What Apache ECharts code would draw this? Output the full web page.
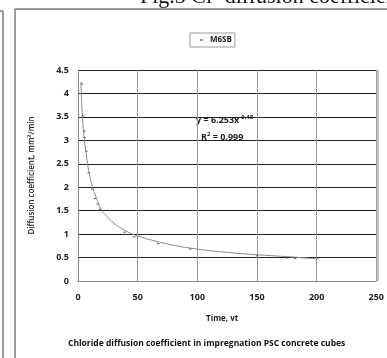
<!DOCTYPE html>
<html><head><meta charset="utf-8">
<script src="https://cdn.jsdelivr.net/npm/echarts@6/dist/echarts.min.js"></script>
<style>html,body{margin:0;padding:0;background:#fff;}#c{width:387px;height:358px;}</style>
</head><body><div id="c"></div>
<script>
// measured data points (x = time, y = diffusion coefficient)
var pointX = [3.3, 4.2, 5.3, 5.5, 7, 9, 12, 14, 16.4, 18.3, 39, 47, 67, 94, 150, 175, 182];
var pointY = [4.2, 3.52, 3.2, 3.06, 2.77, 2.31, 1.96, 1.76, 1.64, 1.53, 1.04, 0.94, 0.80, 0.68, 0.54, 0.49, 0.48];
// trend line
var trendX = [2.5, 3, 4, 5, 6, 8, 10, 12, 15, 20, 25, 30, 40, 50, 75, 100, 125, 150, 175, 202];
var trendY = [4.25, 3.85, 3.4, 3.1, 2.88, 2.5, 2.22, 2.02, 1.8, 1.5, 1.36, 1.23, 1.07, 0.96, 0.79, 0.68, 0.61, 0.56, 0.52, 0.47];
var seriesName = 'M6SB';
var xTitle = 'Time, vt';
var yTitle = 'Diffusion coefficient, mm\u00b2/min';
var caption = 'Chloride diffusion coefficient in impregnation PSC concrete cubes';
var topTitle = 'Fig.3 Cl\u207b diffusion coefficient';

var pts = pointX.map(function(x,i){return [x, pointY[i]];});
var trend = trendX.map(function(x,i){return [x, trendY[i]];});

var chart = echarts.init(document.getElementById('c'));
var lf = 'Open Sans';
chart.setOption({
  animation:false,
  backgroundColor:'#fff',
  grid:{left:78, right:9, top:70, bottom:77, show:false},
  legend:{data:[{name:seriesName, icon:'rect'}], left:190, top:33, borderColor:'#999', borderWidth:1, borderRadius:0,
    padding:[3,3,3,10], itemWidth:3, itemHeight:1.5, itemGap:4,
    textStyle:{fontFamily:lf, fontSize:8, fontWeight:'bold', color:'#222', padding:[0,0,0,2]}},
  xAxis:{type:'value', min:0, max:250, interval:50,
    name:xTitle, nameLocation:'middle', nameGap:34,
    nameTextStyle:{fontFamily:lf, fontSize:8, fontWeight:'bold', color:'#222', padding:[0,10,0,0]},
    axisLine:{show:true, lineStyle:{color:'#888', width:1}}, axisTick:{show:false},
    axisLabel:{fontFamily:lf, fontSize:9, fontWeight:'bold', color:'#222', margin:12},
    splitLine:{show:true, lineStyle:{color:'#999', width:1}}},
  yAxis:{type:'value', min:0, max:4.5, interval:0.5,
    name:yTitle, nameLocation:'middle', nameGap:42, nameRotate:90,
    nameTextStyle:{fontFamily:lf, fontSize:8, fontWeight:600, color:'#222'},
    axisLine:{show:true, lineStyle:{color:'#888', width:1}}, axisTick:{show:false},
    axisLabel:{fontFamily:lf, fontSize:9, fontWeight:'bold', color:'#222', margin:9},
    splitLine:{show:true, lineStyle:{color:'#222', width:1}}},
  series:[
    {name:'trend', type:'line', data:trend, smooth:0.4, showSymbol:false, symbol:'none',
     lineStyle:{color:'#8a8a8a', width:1}, z:2, silent:true},
    {name:seriesName, type:'scatter', data:pts, symbol:'rect', symbolSize:[2.5,1.2],
     itemStyle:{color:'#3c4f96'}, z:3}
  ],
  graphic:[
    {type:'line', shape:{x1:15, y1:9, x2:387, y2:9}, style:{stroke:'#7a7a7a', lineWidth:1.5}},
    {type:'line', shape:{x1:15, y1:9, x2:15, y2:358}, style:{stroke:'#7a7a7a', lineWidth:1.5}},
    {type:'line', shape:{x1:3, y1:11, x2:3, y2:358}, style:{stroke:'#7a7a7a', lineWidth:1.5}},
    {type:'line', shape:{x1:0, y1:11, x2:3, y2:11}, style:{stroke:'#7a7a7a', lineWidth:1.5}},
    {type:'line', shape:{x1:378, y1:70, x2:378, y2:281}, style:{stroke:'#888', lineWidth:1}},
    {type:'text', left:140, top:-14, style:{text:topTitle, font:'22px "Liberation Serif"', fill:'#111'}},
    {type:'text', left:196, top:114, style:{
      rich:{a:{fontFamily:lf, fontSize:9, fontWeight:'bold', fill:'#222'}, s:{fontFamily:lf, fontSize:6, fontWeight:'bold', fill:'#222', verticalAlign:'top', padding:[0,0,6,0]}},
      text:'{a|y = 6.253x}{s|-0.48}'}},
    {type:'text', left:201, top:131, style:{
      rich:{a:{fontFamily:lf, fontSize:9, fontWeight:'bold', fill:'#222'}, s:{fontFamily:lf, fontSize:6, fontWeight:'bold', fill:'#222', padding:[0,0,6,0]}},
      text:'{a|R}{s|2}{a| = 0.999}'}},
    {type:'text', left:68, top:339, style:{text:caption, font:'bold 8.5px "Open Sans"', fill:'#111'}}
  ]
});
</script></body></html>
